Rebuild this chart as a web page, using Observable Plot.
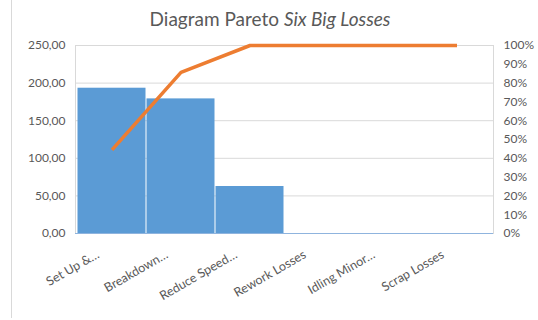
<!DOCTYPE html>
<html>
<head>
<meta charset="utf-8">
<script src="https://cdn.jsdelivr.net/npm/d3@7"></script>
<script src="https://cdn.jsdelivr.net/npm/@observablehq/plot@0.6"></script>
<style>
  body { margin: 0; background: #fff; font-family: Lato, "Open Sans", sans-serif; }
  #wrap { position: relative; width: 538px; height: 320px; overflow: hidden; }
  #edge { position: absolute; left: 11px; top: 0; width: 1px; height: 318px; background: #d9d9d9; }
  #title { height: 36px; line-height: 38px; text-align: center; font-size: 19px; color: #595959; padding-left: 2px; }
</style>
</head>
<body>
<div id="wrap">
  <div id="edge"></div>
  <div id="title">Diagram Pareto <i>Six Big Losses</i></div>
  <div id="chart"></div>
</div>
<script>
const categories = ["Set Up &…", "Breakdown…", "Reduce Speed…", "Rework Losses", "Idling Minor…", "Scrap Losses"];
const losses = [193.2, 179.0, 62.5, 0, 0, 0];
const cumulativePct = [44.5, 85.7, 100, 100, 100, 100];
const leftTicks = [0, 50, 100, 150, 200, 250];
const rightTicksPct = [0, 10, 20, 30, 40, 50, 60, 70, 80, 90, 100];

const rows = categories.map((c, i) => ({cat: c, value: losses[i], pct: cumulativePct[i]}));
const yMax = 250;
const pctToY = p => p / 100 * yMax;

const chart = Plot.plot({
  width: 538,
  height: 284,
  marginTop: 9,
  marginBottom: 87,
  marginLeft: 75,
  marginRight: 45,
  style: {fontFamily: "Lato, 'Open Sans', sans-serif", fontSize: "12px", color: "#595959", background: "transparent"},
  x: {domain: categories, padding: 0, label: null},
  y: {domain: [0, yMax], label: null},
  marks: [
    Plot.gridY(leftTicks, {stroke: "#d9d9d9", strokeOpacity: 1}),
    Plot.frame({stroke: "#d9d9d9"}),
    Plot.barY(rows, {x: "cat", y: "value", fill: "#5b9bd5", insetLeft: 0.5, insetRight: 0.5}),
    Plot.ruleY([0], {stroke: "#8fb4de"}),
    Plot.lineY(rows, {x: "cat", y: d => pctToY(d.pct), stroke: "#ed7d31", strokeWidth: 3.5, strokeLinecap: "butt", strokeLinejoin: "miter"}),
    Plot.axisY(leftTicks, {anchor: "left", tickSize: 0, tickPadding: 10, fontSize: 12, fill: "#595959", tickFormat: d => d.toFixed(2).replace(".", ","), label: null}),
    Plot.axisY(rightTicksPct.map(pctToY), {anchor: "right", tickSize: 0, tickPadding: 10, fontSize: 12, fill: "#595959", tickFormat: d => Math.round(d / yMax * 100) + "%", label: null}),
    Plot.axisX({anchor: "bottom", tickSize: 0, tickRotate: -30, tickPadding: 20, dx: -14, fontSize: 12.5, fill: "#595959", label: null})
  ]
});
document.getElementById("chart").appendChild(chart);
</script>
</body>
</html>
